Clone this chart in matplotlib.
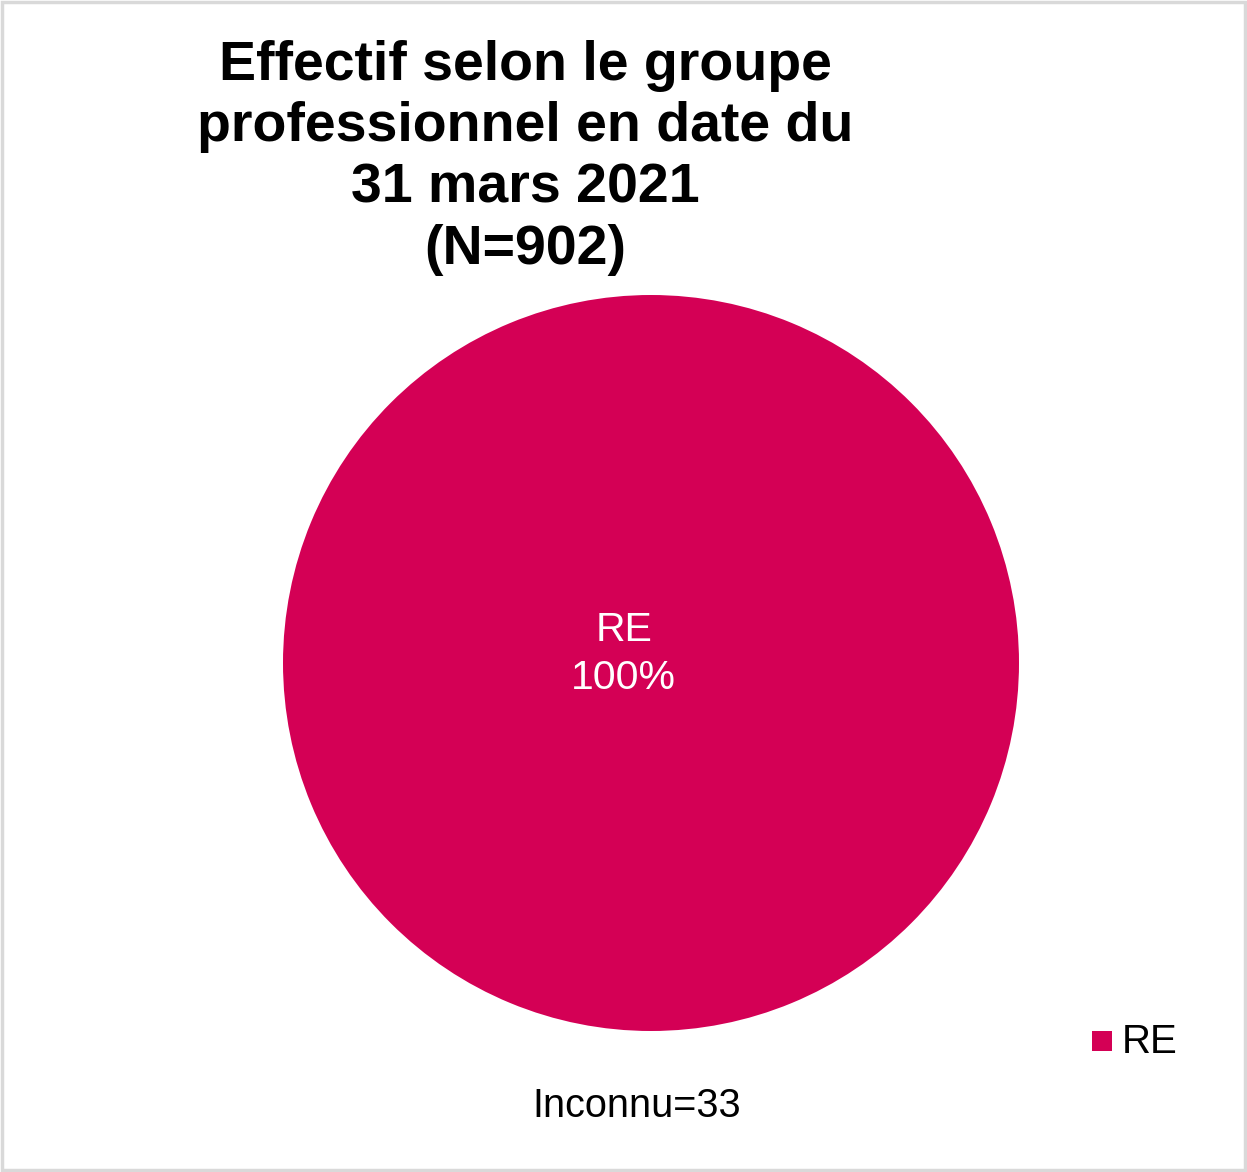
import matplotlib
matplotlib.use('Agg')
import matplotlib.pyplot as plt
from matplotlib.patches import Rectangle

# Données
groupes = ['RE']
effectifs = [902]
couleurs = ['#D40055']
titre = 'Effectif selon le groupe\nprofessionnel en date du\n31 mars 2021\n(N=902)'
note = 'Inconnu=33'

plt.rcParams['font.family'] = ['Liberation Sans', 'DejaVu Sans']

W, H = 1247, 1172
fig = plt.figure(figsize=(W / 100, H / 100), dpi=100)

# Bordure grise
fig.patches.append(Rectangle((0.0015, 0.0015), 0.997, 0.997, transform=fig.transFigure,
                             fill=False, edgecolor='#D9D9D9', linewidth=2.5))

# Camembert
cx, cy, r = 651, H - 663, 368
ax = fig.add_axes([(cx - r) / W, (cy - r) / H, 2 * r / W, 2 * r / H])
total = sum(effectifs)
ax.pie(effectifs, colors=couleurs, radius=1, startangle=90, counterclock=False,
       wedgeprops=dict(linewidth=0))
ax.set_xlim(-1, 1)
ax.set_ylim(-1, 1)
ax.set_aspect('equal')
ax.axis('off')

# Étiquette au centre
for g, v in zip(groupes, effectifs):
    ax.text(-0.074, 0.0245, '{}\n{:.0f}%'.format(g, 100 * v / total), color='white',
            fontsize=29.5, ha='center', va='center', linespacing=1.33)

# Titre
fig.text(525 / W, 1 - 158 / H, titre, ha='center', va='center', fontsize=40,
         fontweight='bold', linespacing=1.24)

# Légende
fig.patches.append(Rectangle((1092 / W, 1 - 1051 / H), 20 / W, 20 / H,
                             transform=fig.transFigure, facecolor=couleurs[0], edgecolor='none'))
fig.text(1122 / W, 1 - 1042 / H, groupes[0], ha='left', va='center', fontsize=29)

# Note
fig.text(637 / W, 1 - 1106 / H, note, ha='center', va='center', fontsize=28.5)

fig.savefig('out.png', dpi=100)
